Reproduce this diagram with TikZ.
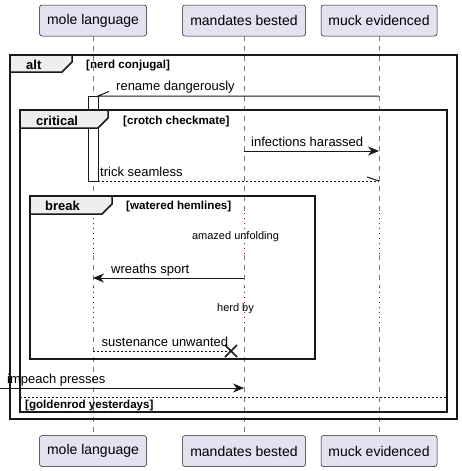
\documentclass[tikz,border=0pt]{standalone}
\usepackage{fontspec}
\setmainfont{Liberation Sans}
\usetikzlibrary{arrows.meta}
\definecolor{partfill}{HTML}{E2E2F0}
\definecolor{partline}{HTML}{181818}
\definecolor{tabfill}{HTML}{EEEEEE}
\definecolor{lifegray}{HTML}{777777}
\definecolor{delayred}{HTML}{800040}
\definecolor{ink}{HTML}{181818}
\tikzset{
 part/.style={draw=partline, fill=partfill, rounded corners=2.5pt, line width=0.5pt, inner sep=0pt, font=\fontsize{14}{16}\selectfont},
 lifeline/.style={draw=lifegray, line width=0.8pt, dash pattern=on 5pt off 5pt},
 delayline/.style={draw=delayred, line width=1pt, dash pattern=on 1pt off 4pt},
 msg/.style={draw=ink, line width=1pt},
 rmsg/.style={msg, dash pattern=on 2pt off 2pt},
 tipped/.style={-{Stealth[length=11pt,width=9pt,inset=3.5pt]}},
 frame/.style={draw=ink, line width=1.5pt},
 tabshape/.style={frame, fill=tabfill},
 lbl/.style={anchor=base west, inner sep=0pt, font=\fontsize{13}{15}\selectfont},
 tablbl/.style={anchor=base west, inner sep=0pt, font=\fontsize{13}{15}\selectfont\bfseries},
 cond/.style={anchor=base west, inner sep=0pt, font=\fontsize{11.6}{13}\selectfont\bfseries},
 dly/.style={anchor=base, inner sep=0pt, font=\fontsize{11}{13}\selectfont},
 actbox/.style={draw=ink, fill=white, line width=1pt, inner sep=0pt, minimum width=10pt, minimum height=85pt},
}
\begin{document}
\begin{tikzpicture}[x=1pt,y=-1pt]
\useasboundingbox (0,0) rectangle (462,471);
% participants
\node[part, minimum width=107pt, minimum height=31pt] (top-ml) at (93,20.5) {mole language};
\node[part, minimum width=123pt, minimum height=31pt] (top-mb) at (244,20.5) {mandates bested};
\node[part, minimum width=116pt, minimum height=31pt] (top-me) at (379,20.5) {muck evidenced};
\node[part, minimum width=107pt, minimum height=31pt] (bot-ml) at (93,451) {mole language};
\node[part, minimum width=123pt, minimum height=31pt] (bot-mb) at (244,451) {mandates bested};
\node[part, minimum width=116pt, minimum height=31pt] (bot-me) at (379,451) {muck evidenced};
% lifelines with delays
\foreach \n/\xx in {ml/93, mb/244, me/379} {
  \coordinate (d1-\n) at (\xx,213);
  \coordinate (d2-\n) at (\xx,255);
  \coordinate (d3-\n) at (\xx,287);
  \coordinate (d4-\n) at (\xx,327);
  \draw[lifeline] (top-\n.south) -- (d1-\n);
  \draw[delayline] (d1-\n) -- (d2-\n);
  \draw[lifeline] (d2-\n) -- (d3-\n);
  \draw[delayline] (d3-\n) -- (d4-\n);
  \draw[lifeline] (d4-\n) -- (bot-\n.north);
}
% activation
\node[actbox] (act) at (93,138.5) {};
% frames
\draw[frame] (10,55) rectangle (457,419);
\draw[tabshape] (10,55) -- (72,55) -- (72,62) -- (62,72) -- (10,72) -- cycle;
\node[tablbl] (altlbl) at (26,69) {alt};
\node[cond] (altcond) at (86,68) {[nerd conjugal]};
\draw[frame] (20,110) rectangle (447,412);
\draw[tabshape] (20,110) -- (108,110) -- (108,118) -- (98,128) -- (20,128) -- cycle;
\node[tablbl] (critlbl) at (36,125) {critical};
\node[cond] (critcond) at (123,124) {[crotch checkmate]};
\draw[frame] (30,196) rectangle (315,359);
\draw[tabshape] (30,196) -- (112,196) -- (112,204) -- (102,214) -- (30,214) -- cycle;
\node[tablbl] (brklbl) at (45,210.5) {break};
\node[cond] (brkcond) at (126,209) {[watered hemlines]};
% rename dangerously
\coordinate (m1s) at (379,96);
\coordinate (m1e) at (98,96);
\coordinate (m1t) at (109,91.5);
\draw[msg] (m1s) -- (m1e) -- (m1t);
\node[lbl] (m1l) at (116,90.5) {rename dangerously};
% infections harassed
\coordinate (m2s) at (244,151);
\coordinate (m2e) at (379,151);
\draw[msg, tipped] (m2s) -- (m2e);
\node[lbl] (m2l) at (251,146) {infections harassed};
% trick seamless
\coordinate (m3s) at (98,181);
\coordinate (m3e) at (379,181);
\coordinate (m3t) at (367,177);
\draw[rmsg] (m3s) -- (m3e);
\draw[msg] (m3e) -- (m3t);
\node[lbl] (m3l) at (100,176) {trick seamless};
% delay texts
\node[dly] (dl1) at (235.5,239.5) {amazed unfolding};
\node[dly] (dl2) at (235.5,311) {herd by};
% wreaths sport
\coordinate (m4s) at (244,278);
\coordinate (m4e) at (93,278);
\draw[msg, tipped] (m4s) -- (m4e);
\node[lbl] (m4l) at (111,273) {wreaths sport};
% sustenance unwanted
\coordinate (m5s) at (93,351);
\coordinate (m5e) at (231,351);
\draw[rmsg] (m5s) -- (m5e);
\draw[ink, line width=1.6pt] ([shift={(-6,-6)}]m5e) -- ([shift={(6,6)}]m5e)
  ([shift={(-6,6)}]m5e) -- ([shift={(6,-6)}]m5e);
\node[lbl] (m5l) at (101.5,346) {sustenance unwanted};
% impeach presses
\coordinate (m6s) at (0,388);
\coordinate (m6e) at (244,388);
\draw[msg, tipped] (m6s) -- (m6e);
\node[lbl] (m6l) at (7,383) {impeach presses};
% else separator
\coordinate (sepL) at (20,397);
\coordinate (sepR) at (447,397);
\draw[ink, line width=1pt, dash pattern=on 2pt off 2pt] (sepL) -- (sepR);
\node[cond] (elsecond) at (25,408.5) {[goldenrod yesterdays]};
\end{tikzpicture}
\end{document}
